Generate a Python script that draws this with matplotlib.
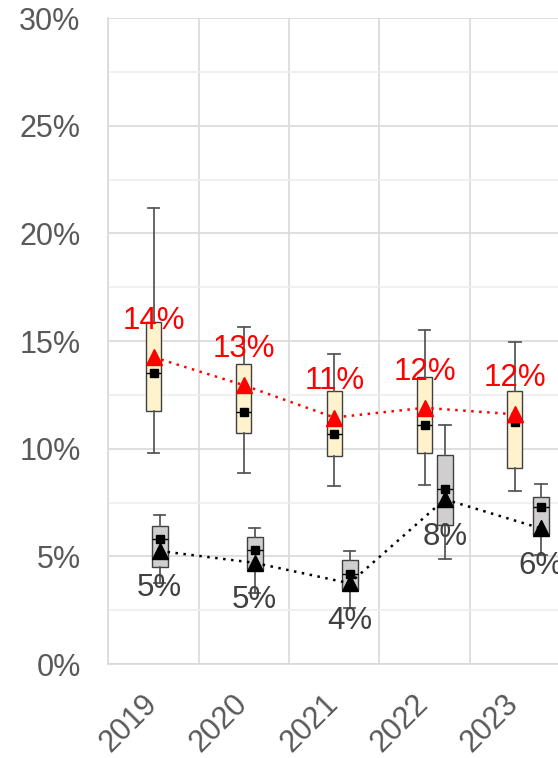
import matplotlib

matplotlib.use("Agg")
import matplotlib.pyplot as plt
import matplotlib.transforms as mtransforms
import numpy as np
from matplotlib.ticker import FuncFormatter, MultipleLocator

years = ["2019", "2020", "2021", "2022", "2023"]

# upper series (percent)
upper_whislo = [9.8, 8.85, 8.25, 8.3, 8.05]
upper_q1 = [11.75, 10.75, 9.65, 9.8, 9.1]
upper_med = [13.5, 11.7, 10.7, 11.1, 11.25]
upper_q3 = [15.9, 13.95, 12.7, 13.35, 12.7]
upper_whishi = [21.2, 15.65, 14.4, 15.5, 14.95]
upper_mean = [14.25, 12.95, 11.45, 11.9, 11.6]

# lower series (percent)
lower_whislo = [3.75, 3.3, 2.6, 4.9, 5.05]
lower_q1 = [4.5, 4.35, 3.45, 6.45, 6.0]
lower_med = [5.8, 5.3, 4.2, 8.15, 7.3]
lower_q3 = [6.4, 5.9, 4.85, 9.7, 7.75]
lower_whishi = [6.9, 6.3, 5.25, 11.1, 8.35]
lower_mean = [5.25, 4.7, 3.75, 7.65, 6.3]

YELLOW = "#FFF2CC"
GREY_FILL = "#D0CECE"
EDGE = "#404040"
WHISKER = "#595959"
GRID = "#D9D9D9"
TEXT = "#595959"


def box_stats(lo, q1, med, q3, hi):
    return [
        {"whislo": a, "q1": b, "med": c, "q3": d, "whishi": e, "fliers": []}
        for a, b, c, d, e in zip(lo, q1, med, q3, hi)
    ]


def draw_boxes(ax, stats, positions, width, fill):
    ax.bxp(
        stats,
        positions=positions,
        widths=width,
        capwidths=0.13,
        patch_artist=True,
        showfliers=False,
        boxprops={"facecolor": fill, "edgecolor": EDGE, "linewidth": 1.0},
        whiskerprops={"color": WHISKER, "linewidth": 1.3},
        capprops={"color": WHISKER, "linewidth": 1.3},
        medianprops={"color": "black", "linewidth": 1.0},
        manage_ticks=False,
        zorder=2,
    )


def main() -> None:
    plt.rcParams["font.family"] = ["Liberation Sans", "DejaVu Sans"]
    fig = plt.figure(figsize=(5.58, 7.58), dpi=100)
    ax = fig.add_axes([0.1944, 0.124, 0.8056, 0.852])

    x = np.arange(len(years))
    upper_pos = x.astype(float)
    lower_pos = x + np.array([0.066, 0.118, 0.17, 0.224, 0.288])

    # grid: categories + major/minor horizontal lines
    for b in np.arange(-0.5, len(years), 1.0):
        ax.axvline(b, color=GRID, linewidth=1.2, zorder=0)
    ax.yaxis.set_major_locator(MultipleLocator(5))
    ax.yaxis.set_minor_locator(MultipleLocator(2.5))
    ax.grid(axis="y", which="major", color=GRID, linewidth=1.2, zorder=0)
    ax.grid(axis="y", which="minor", color="#EDEDED", linewidth=1.2, zorder=0)
    ax.set_axisbelow(True)

    draw_boxes(ax, box_stats(upper_whislo, upper_q1, upper_med, upper_q3, upper_whishi),
               upper_pos, 0.166, YELLOW)
    draw_boxes(ax, box_stats(lower_whislo, lower_q1, lower_med, lower_q3, lower_whishi),
               lower_pos, 0.177, GREY_FILL)

    # median markers
    ax.plot(upper_pos, upper_med, "s", color="black", markersize=5.8, zorder=3)
    ax.plot(lower_pos, lower_med, "s", color="black", markersize=5.8, zorder=3)

    # means joined by dotted lines
    ax.plot(upper_pos, upper_mean, color="#FF0000", linewidth=1.8, dashes=(1, 2.2),
            marker="^", markersize=11, zorder=4)
    ax.plot(lower_pos, lower_mean, color="black", linewidth=1.8, dashes=(1, 2.2),
            marker="^", markersize=11, zorder=4)

    for px, v in zip(upper_pos, upper_mean):
        ax.annotate(f"{v:.0f}%", (px, v), xytext=(0, 26), textcoords="offset points",
                    ha="center", va="center", fontsize=22.5, color="#FF0000", zorder=5)
    for px, v in zip(lower_pos, lower_mean):
        ax.annotate(f"{v:.0f}%", (px, v), xytext=(0, -27), textcoords="offset points",
                    ha="center", va="center", fontsize=22.5, color=EDGE, zorder=5)

    ax.set_xlim(-0.5, 4.478)
    ax.set_ylim(0, 30)
    ax.set_xticks(x)
    ax.set_xticklabels(years, rotation=45, ha="right")
    ax.yaxis.set_major_formatter(FuncFormatter(lambda v, _: f"{v:.0f}%"))
    ax.tick_params(axis="both", which="both", length=0, labelsize=22, labelcolor=TEXT)
    ax.tick_params(axis="y", pad=20)
    ax.tick_params(axis="x", pad=18)

    # nudge the rotated year labels right so they end under the category centre
    shift = mtransforms.ScaledTranslation(10 / 100, 0, fig.dpi_scale_trans)
    for lab in ax.get_xticklabels():
        lab.set_transform(lab.get_transform() + shift)

    for side in ("top", "right"):
        ax.spines[side].set_visible(False)
    for side in ("left", "bottom"):
        ax.spines[side].set_color(GRID)
        ax.spines[side].set_linewidth(1.2)

    fig.savefig("out.png", dpi=100)
    plt.close(fig)


if __name__ == "__main__":
    main()
